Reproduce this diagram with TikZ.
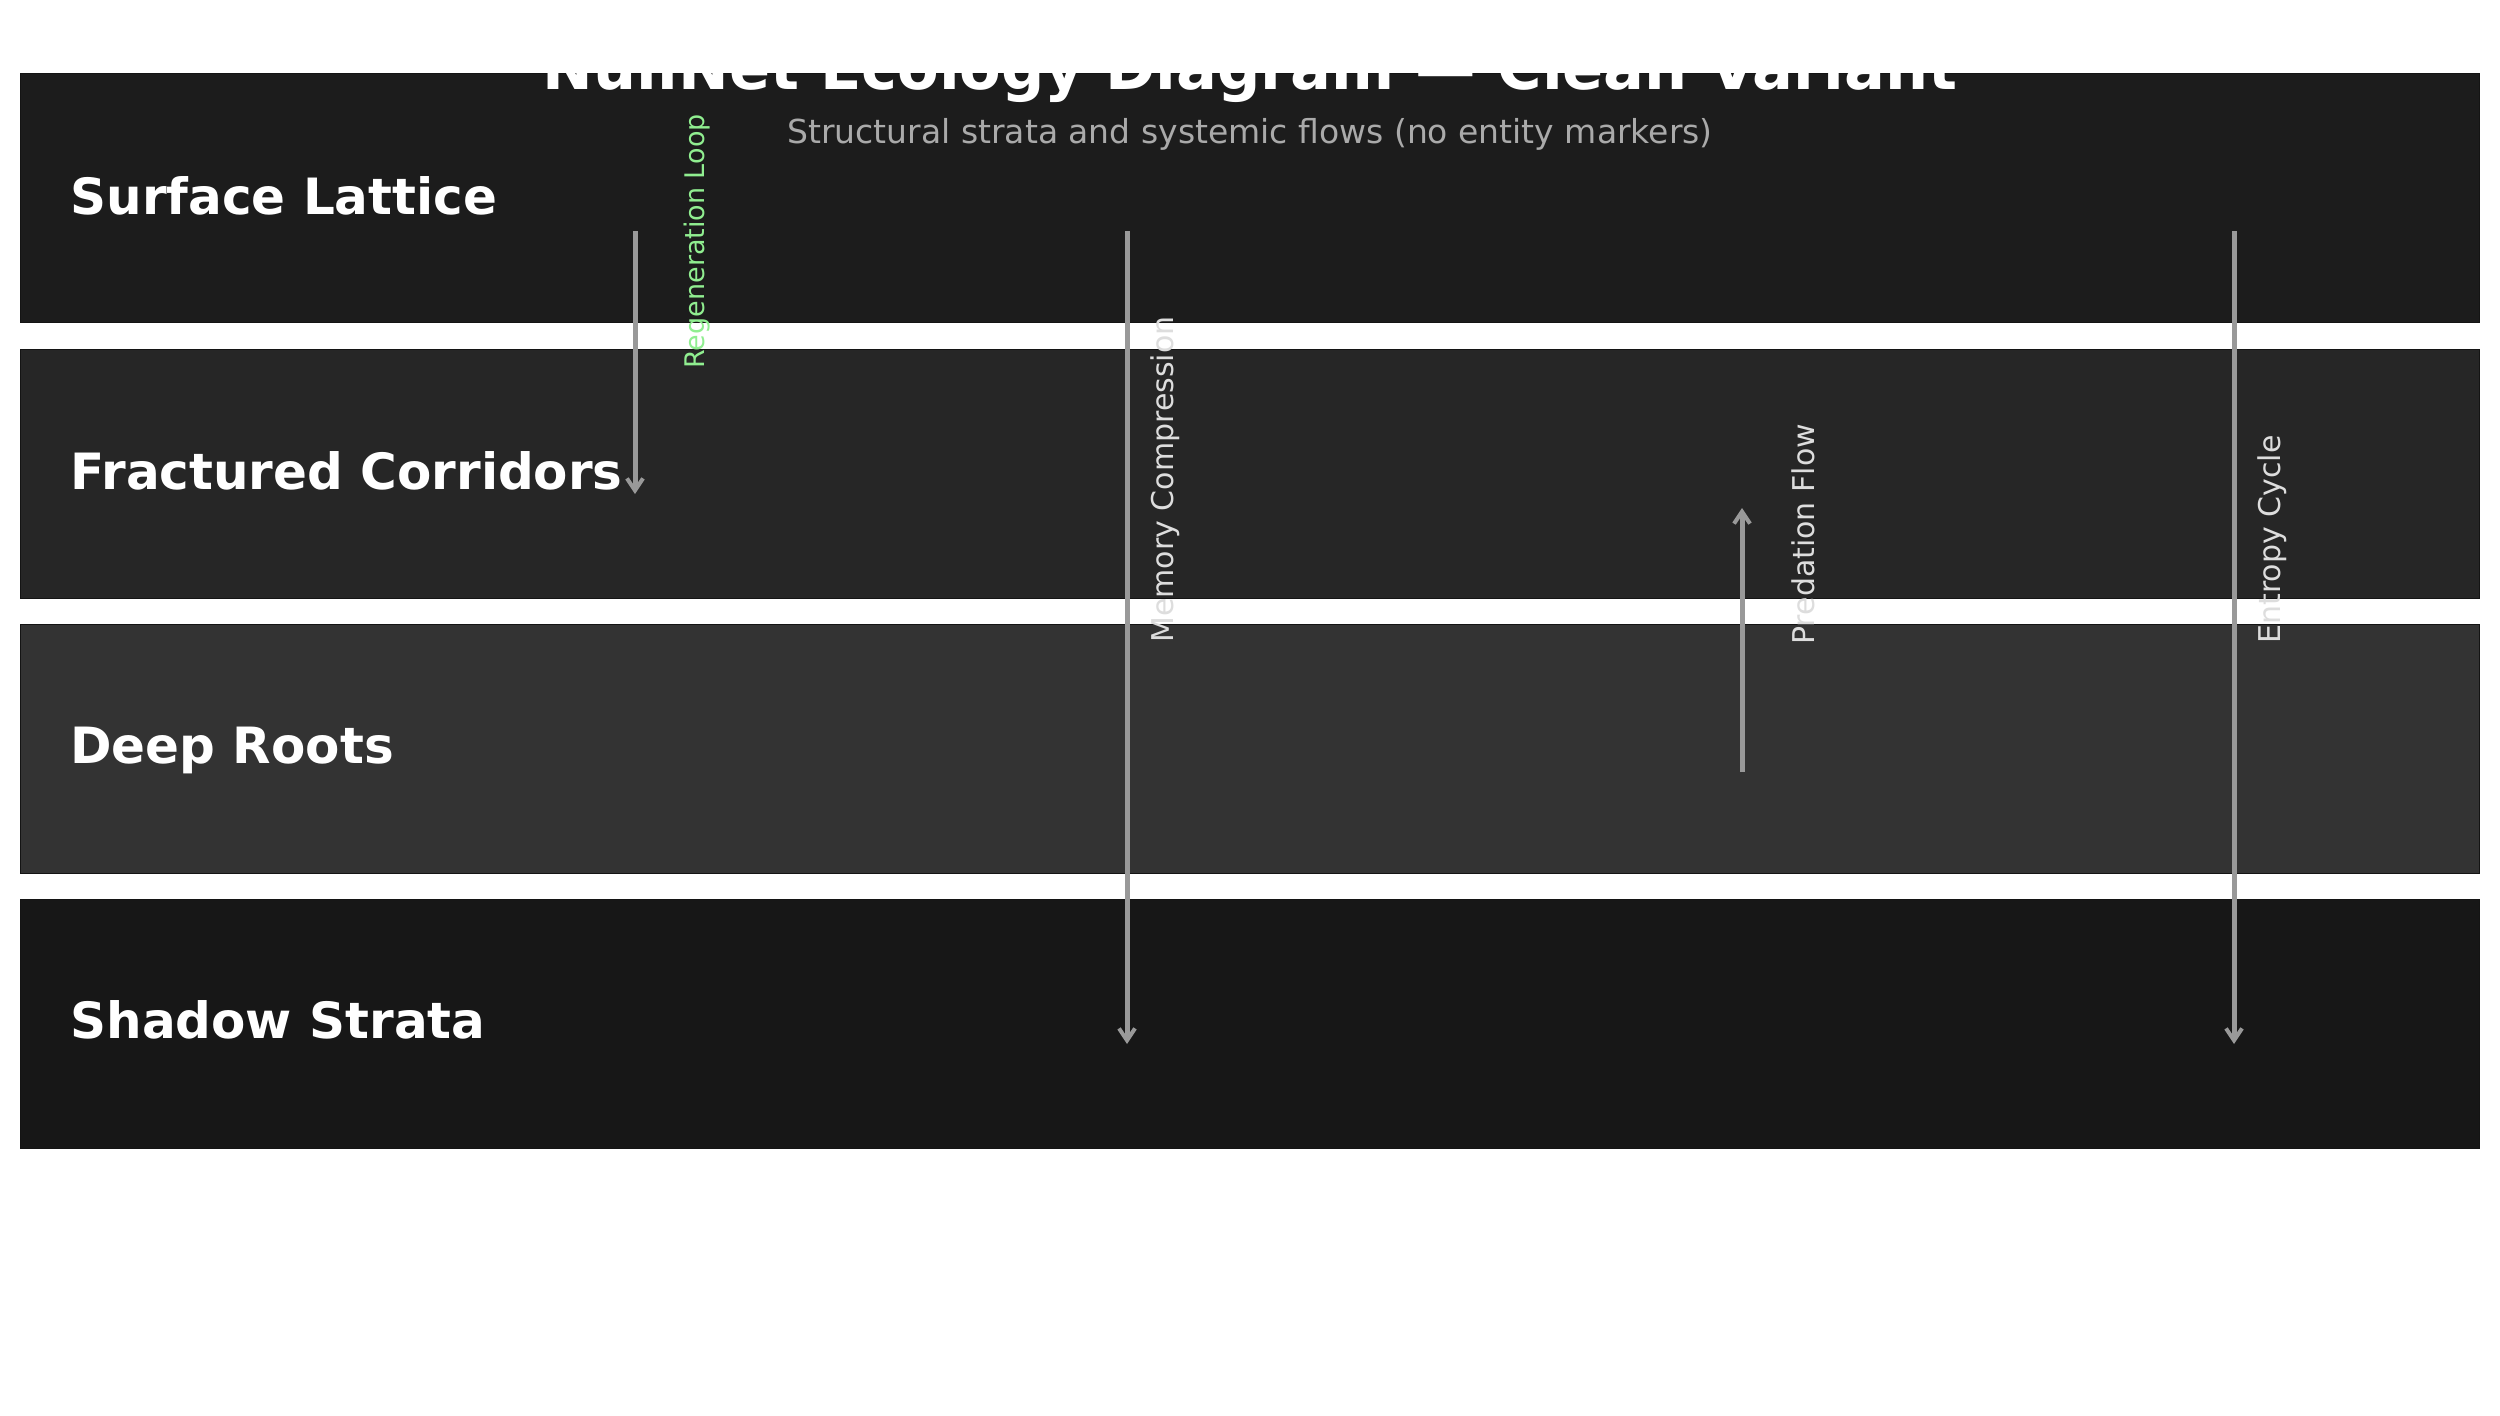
\documentclass[tikz,border=0pt]{standalone}
\usepackage{fontspec}
\setmainfont{DejaVu Sans}
\usetikzlibrary{arrows.meta}
\definecolor{bandA}{HTML}{1C1C1C}
\definecolor{bandB}{HTML}{262626}
\definecolor{bandC}{HTML}{333333}
\definecolor{bandD}{HTML}{171717}
\definecolor{bandedge}{HTML}{141414}
\definecolor{flowgrey}{HTML}{999999}
\definecolor{subgrey}{HTML}{AAAAAA}
\definecolor{lablight}{HTML}{DDDDDD}
\definecolor{regen}{HTML}{90EE90}
\tikzset{
  band/.style={draw=bandedge, line width=0.5pt, minimum width=1229.5pt, minimum height=124.5pt, inner sep=0pt, anchor=north west},
  bandlabel/.style={anchor=west, inner sep=0pt, text=white, font=\fontsize{25}{30}\selectfont\bfseries},
  flow/.style={draw=flowgrey, line width=2.5pt, -{Straight Barb[length=6pt,width=8pt,line width=2pt]}},
  flowlabel/.style={rotate=90, anchor=west, inner sep=0pt, text=lablight, font=\fontsize{15}{18}\selectfont},
}
\begin{document}
\begin{tikzpicture}[x=0.5pt,y=-0.5pt]
\useasboundingbox[fill=white] (0,0) rectangle (2500,1415);
% bands
\node[band, fill=bandA] (b1) at (20,73) {};
\node[band, fill=bandB] (b2) at (20,349) {};
\node[band, fill=bandC] (b3) at (20,624) {};
\node[band, fill=bandD] (b4) at (20,899) {};
% title
\node[text=white, font=\fontsize{30.3}{36}\selectfont\bfseries, anchor=base, inner sep=0pt] (title) at (1250,89) {NullNet Ecology Diagram — Clean Variant};
\node[text=subgrey, font=\fontsize{16.5}{20}\selectfont, anchor=base, inner sep=0pt] (subtitle) at (1250,143) {Structural strata and systemic flows (no entity markers)};
% band labels
\node[bandlabel] (l1) at (70,196) {Surface Lattice};
\node[bandlabel] (l2) at (70,471) {Fractured Corridors};
\node[bandlabel] (l3) at (70,750) {Deep Roots};
\node[bandlabel] (l4) at (70,1020) {Shadow Strata};
% flow end points
\coordinate (r0) at (635,231);
\coordinate (r1) at (635,494);
\coordinate (m0) at (1127,231);
\coordinate (m1) at (1127,1044);
\coordinate (p0) at (1742,772);
\coordinate (p1) at (1742,508);
\coordinate (e0) at (2234,231);
\coordinate (e1) at (2234,1044);
\draw[flow] (r0) -- (r1);
\draw[flow] (m0) -- (m1);
\draw[flow] (p0) -- (p1);
\draw[flow] (e0) -- (e1);
% flow labels
\node[flowlabel, text=regen, font=\fontsize{13.5}{16}\selectfont] (rl) at (697,369) {Regeneration Loop};
\node[flowlabel] (ml) at (1165,643) {Memory Compression};
\node[flowlabel] (pl) at (1803,645) {Predation Flow};
\node[flowlabel] (el) at (2272,644) {Entropy Cycle};
\end{tikzpicture}
\end{document}
